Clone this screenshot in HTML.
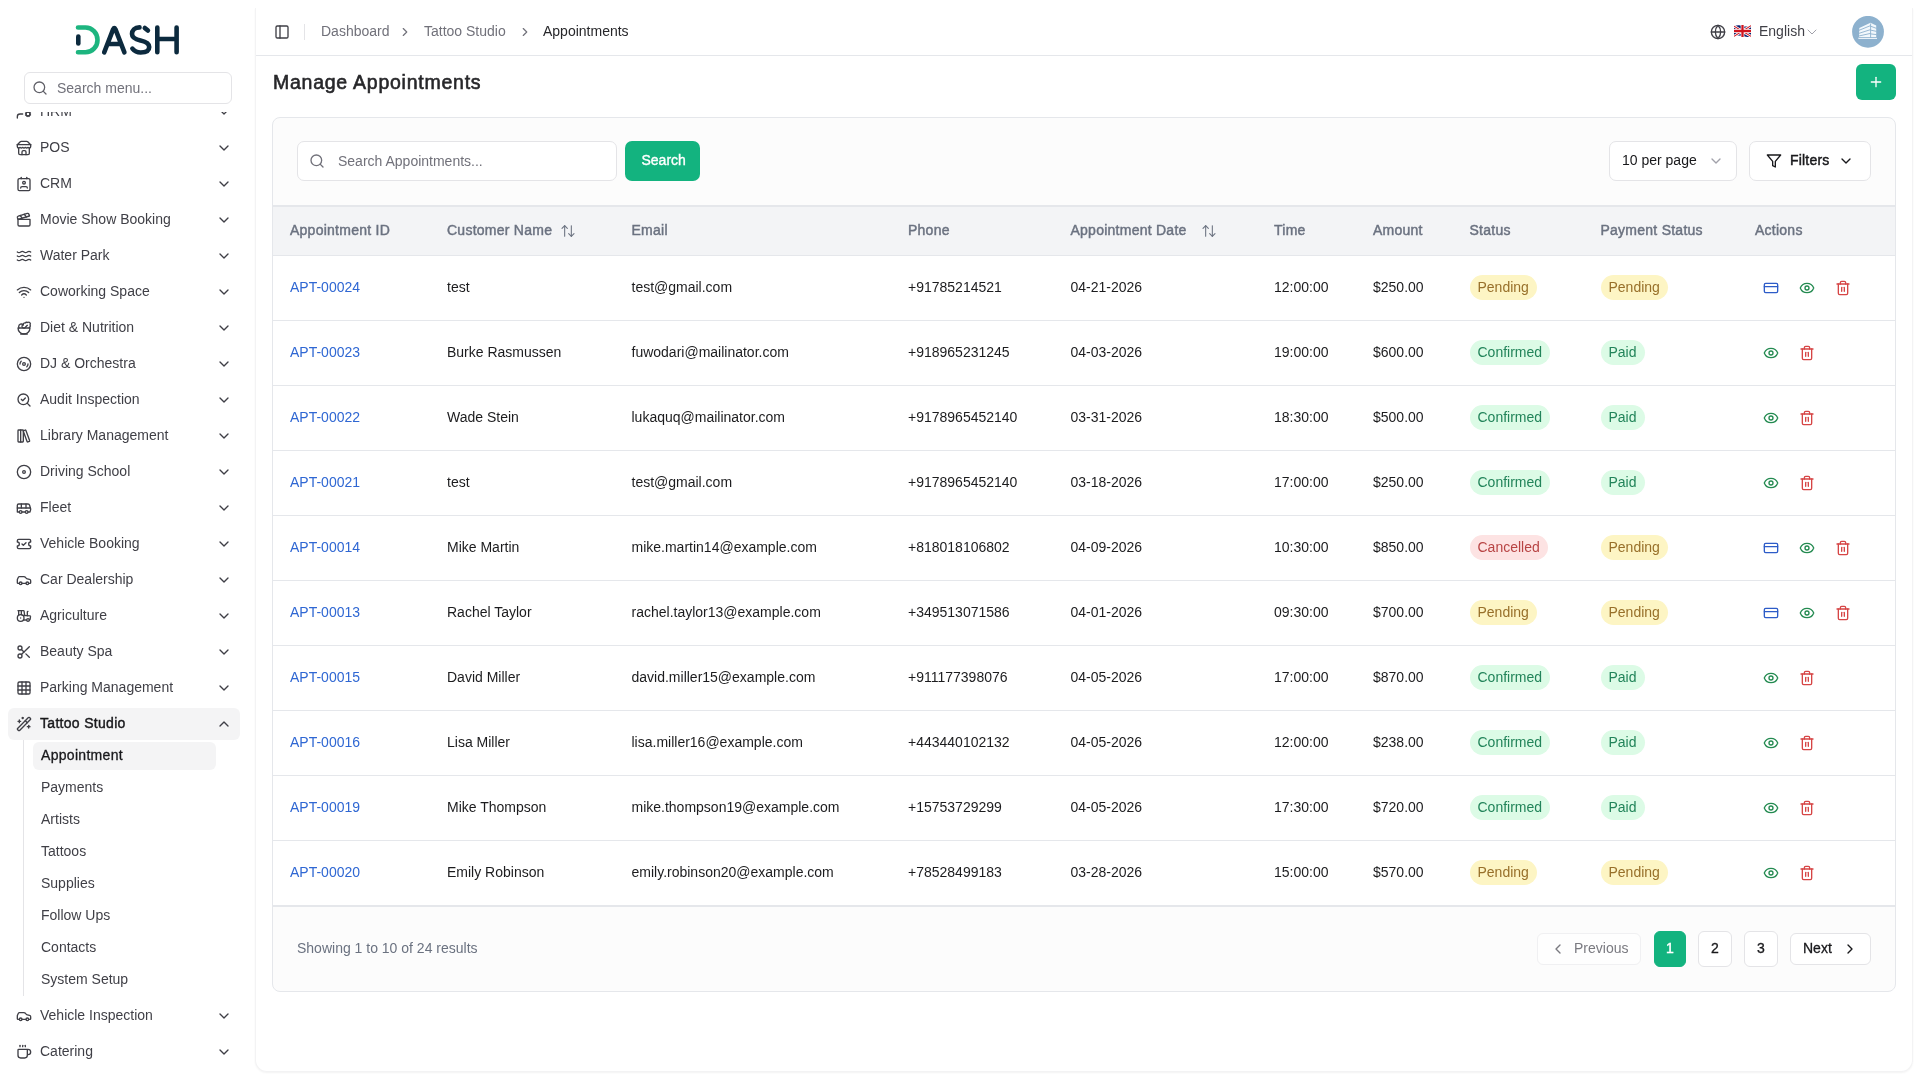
<!DOCTYPE html>
<html><head><meta charset="utf-8">
<style>
*{box-sizing:border-box;margin:0;padding:0}
html,body{width:1920px;height:1080px;overflow:hidden;background:#fff;font-family:"Liberation Sans",sans-serif;color:#27272a}
.abs{position:absolute}
svg{display:block}
/* sidebar */
#side{position:absolute;left:0;top:0;width:256px;height:1080px;background:#fff}
#logo{position:absolute;left:70px;top:20px}
#msearch{position:absolute;left:24px;top:72px;width:208px;height:32px;border:1px solid #e4e4e7;border-radius:6px;background:#fff}
#msearch .ph{position:absolute;left:32px;top:7px;font-size:14px;color:#71717a;line-height:16px}
#nav{position:absolute;left:0;top:112px;width:256px;height:968px;overflow:hidden}
.it{position:absolute;left:8px;width:232px;height:32px;border-radius:6px}
.it .ic{position:absolute;left:8px;top:8px;width:16px;height:16px}
.it .tx{position:absolute;left:32px;top:7px;font-size:14px;line-height:16px;color:#3f3f46;white-space:nowrap}
.it .ch{position:absolute;left:208px;top:10px;width:12px;height:12px}
.it.act{background:#f4f4f5}
.it.act .tx{color:#18181b;-webkit-text-stroke:0.4px #18181b;letter-spacing:0.3px}
.sub{position:absolute;left:33px;width:183px;height:28px;border-radius:6px}
.sub .tx{position:absolute;left:8px;top:5px;font-size:14px;line-height:16px;color:#3f3f46;white-space:nowrap}
.sub.act{background:#f4f4f5}
.sub.act .tx{color:#18181b;-webkit-text-stroke:0.3px #18181b;letter-spacing:0.3px}
#vline{position:absolute;left:23px;top:740px;width:1px;height:256px;background:#e4e4e7}
/* main */
#main{position:absolute;left:255px;top:8px;width:1658px;height:1064px;border-radius:12px;background:#fff;border:1px solid #f3f3f4;border-top:none;border-top-left-radius:0;border-top-right-radius:0;box-shadow:0 1px 2px rgba(0,0,0,.05)}
.t{position:absolute;white-space:nowrap}
.badge{position:absolute;height:24.6px;padding:0 8px;border-radius:13px;font-size:14px;line-height:24.6px;white-space:nowrap}
.pg{position:absolute;border:1px solid #e4e4e7;border-radius:6px;background:#fff}
</style></head><body><div id="root" style="position:absolute;left:0;top:0;width:1920px;height:1080px;will-change:transform">
<div id="side">
  <svg id="logo" width="115" height="40" viewBox="70 20 115 40" fill="none" stroke-linecap="round" stroke-linejoin="round">
    <path d="M78,27.5 H85.5 A12,12.4 0 0 1 85.5,52.3 H78" stroke="#1db57f" stroke-width="4.6"/>
    <path d="M78.3,36.6 V43.4" stroke="#0c2a3e" stroke-width="4.6"/>
    <path d="M104.2,52.3 L113.2,29.2 Q114.3,27 115.4,29.2 L124.4,52.3 M108.2,44 H120.4" stroke="#0c2a3e" stroke-width="4.6"/>
    <path d="M139.5,27.4 C134.5,27.4 132,30.3 132,34 C132,38 135.5,39.4 140.5,40.5 C146,41.7 149.2,43.5 149.2,47 C149.2,50.8 145.6,52.5 140.6,52.5 C136.6,52.5 134.3,51 132.4,48.6 M144.8,27.9 L147.9,30.6" stroke="#0c2a3e" stroke-width="4.6"/>
    <path d="M157.3,27.5 V52.3 M176.6,27.5 V52.3 M157.3,39 H176.6" stroke="#0c2a3e" stroke-width="4.6"/>
  </svg>
  <div id="msearch">
    <svg class="abs" style="left:7px;top:7px" width="16" height="16" viewBox="0 0 24 24" fill="none" stroke="#5f5f67" stroke-width="1.9" stroke-linecap="round"><circle cx="11" cy="11" r="8"/><path d="m21 21-4.3-4.3"/></svg>
    <div class="ph">Search menu...</div>
  </div>
  <div id="nav">
  <div class="it" style="top:-16px"><svg style="position:absolute;left:8px;top:8px" width="16" height="16" viewBox="0 0 24 24" fill="none" stroke="#3f3f46" stroke-width="2" stroke-linecap="round" stroke-linejoin="round"><circle cx="18" cy="15" r="3"/><circle cx="9" cy="7" r="4"/><path d="M10 15H6a4 4 0 0 0-4 4v2"/><path d="m21.7 16.4-.9-.3"/><path d="m15.2 13.9-.9-.3"/><path d="m16.6 18.7.3-.9"/><path d="m19.1 12.2.3-.9"/><path d="m19.6 18.7-.4-1"/><path d="m16.8 12.3-.4-1"/><path d="m14.3 16.6 1-.4"/><path d="m20.7 13.8 1-.4"/></svg><div class="tx">HRM</div><svg style="position:absolute;left:208px;top:8px" width="16" height="16" viewBox="0 0 24 24" fill="none" stroke="#3f3f46" stroke-width="2" stroke-linecap="round" stroke-linejoin="round"><path d="m6 9 6 6 6-6"/></svg></div>
<div class="it" style="top:20px"><svg style="position:absolute;left:8px;top:8px" width="16" height="16" viewBox="0 0 24 24" fill="none" stroke="#3f3f46" stroke-width="2" stroke-linecap="round" stroke-linejoin="round"><path d="m2 7 4.41-4.41A2 2 0 0 1 7.83 2h8.34a2 2 0 0 1 1.42.59L22 7"/><path d="M4 12v8a2 2 0 0 0 2 2h12a2 2 0 0 0 2-2v-8"/><path d="M15 22v-4a2 2 0 0 0-2-2h-2a2 2 0 0 0-2 2v4"/><path d="M2 7h20"/><path d="M22 7v3a2 2 0 0 1-2 2a2.7 2.7 0 0 1-1.59-.63.7.7 0 0 0-.82 0A2.7 2.7 0 0 1 16 12a2.7 2.7 0 0 1-1.59-.63.7.7 0 0 0-.82 0A2.7 2.7 0 0 1 12 12a2.7 2.7 0 0 1-1.590-.63.7.7 0 0 0-.82 0A2.7 2.7 0 0 1 8 12a2.7 2.7 0 0 1-1.59-.63.7.7 0 0 0-.82 0A2.7 2.7 0 0 1 4 12a2 2 0 0 1-2-2V7"/></svg><div class="tx">POS</div><svg style="position:absolute;left:208px;top:8px" width="16" height="16" viewBox="0 0 24 24" fill="none" stroke="#3f3f46" stroke-width="2" stroke-linecap="round" stroke-linejoin="round"><path d="m6 9 6 6 6-6"/></svg></div>
<div class="it" style="top:56px"><svg style="position:absolute;left:8px;top:8px" width="16" height="16" viewBox="0 0 24 24" fill="none" stroke="#3f3f46" stroke-width="2" stroke-linecap="round" stroke-linejoin="round"><path d="M17 18a2 2 0 0 0-2-2H9a2 2 0 0 0-2 2"/><rect width="18" height="18" x="3" y="4" rx="2"/><circle cx="12" cy="10" r="2"/><line x1="8" x2="8" y1="2" y2="4"/><line x1="16" x2="16" y1="2" y2="4"/></svg><div class="tx">CRM</div><svg style="position:absolute;left:208px;top:8px" width="16" height="16" viewBox="0 0 24 24" fill="none" stroke="#3f3f46" stroke-width="2" stroke-linecap="round" stroke-linejoin="round"><path d="m6 9 6 6 6-6"/></svg></div>
<div class="it" style="top:92px"><svg style="position:absolute;left:8px;top:8px" width="16" height="16" viewBox="0 0 24 24" fill="none" stroke="#3f3f46" stroke-width="2" stroke-linecap="round" stroke-linejoin="round"><path d="M20.2 6 3 11l-.9-2.4c-.3-1.1.3-2.2 1.3-2.5l13.5-4c1.1-.3 2.2.3 2.5 1.3Z"/><path d="m6.2 5.3 3.1 3.9"/><path d="m12.4 3.4 3.1 4"/><path d="M3 11h18v8a2 2 0 0 1-2 2H5a2 2 0 0 1-2-2Z"/></svg><div class="tx">Movie Show Booking</div><svg style="position:absolute;left:208px;top:8px" width="16" height="16" viewBox="0 0 24 24" fill="none" stroke="#3f3f46" stroke-width="2" stroke-linecap="round" stroke-linejoin="round"><path d="m6 9 6 6 6-6"/></svg></div>
<div class="it" style="top:128px"><svg style="position:absolute;left:8px;top:8px" width="16" height="16" viewBox="0 0 24 24" fill="none" stroke="#3f3f46" stroke-width="2" stroke-linecap="round" stroke-linejoin="round"><path d="M2 6c.6.5 1.2 1 2.5 1C7 7 7 5 9.5 5c2.6 0 2.4 2 5 2 2.5 0 2.5-2 5-2 1.3 0 1.9.5 2.5 1"/><path d="M2 12c.6.5 1.2 1 2.5 1 2.5 0 2.5-2 5-2 2.6 0 2.4 2 5 2 2.5 0 2.5-2 5-2 1.3 0 1.9.5 2.5 1"/><path d="M2 18c.6.5 1.2 1 2.5 1 2.5 0 2.5-2 5-2 2.6 0 2.4 2 5 2 2.5 0 2.5-2 5-2 1.3 0 1.9.5 2.5 1"/></svg><div class="tx">Water Park</div><svg style="position:absolute;left:208px;top:8px" width="16" height="16" viewBox="0 0 24 24" fill="none" stroke="#3f3f46" stroke-width="2" stroke-linecap="round" stroke-linejoin="round"><path d="m6 9 6 6 6-6"/></svg></div>
<div class="it" style="top:164px"><svg style="position:absolute;left:8px;top:8px" width="16" height="16" viewBox="0 0 24 24" fill="none" stroke="#3f3f46" stroke-width="2" stroke-linecap="round" stroke-linejoin="round"><path d="M12 20h.01"/><path d="M2 8.82a15 15 0 0 1 20 0"/><path d="M5 12.859a10 10 0 0 1 14 0"/><path d="M8.5 16.429a5 5 0 0 1 7 0"/></svg><div class="tx">Coworking Space</div><svg style="position:absolute;left:208px;top:8px" width="16" height="16" viewBox="0 0 24 24" fill="none" stroke="#3f3f46" stroke-width="2" stroke-linecap="round" stroke-linejoin="round"><path d="m6 9 6 6 6-6"/></svg></div>
<div class="it" style="top:200px"><svg style="position:absolute;left:8px;top:8px" width="16" height="16" viewBox="0 0 24 24" fill="none" stroke="#3f3f46" stroke-width="2" stroke-linecap="round" stroke-linejoin="round"><path d="M7 21h10"/><path d="M12 21a9 9 0 0 0 9-9H3a9 9 0 0 0 9 9Z"/><path d="M11.38 12a2.4 2.4 0 0 1-.4-4.77 2.4 2.4 0 0 1 3.2-2.77 2.4 2.4 0 0 1 3.47-.63 2.4 2.4 0 0 1 3.37 3.37 2.4 2.4 0 0 1-1.1 3.7 2.51 2.51 0 0 1 .03 1.1"/><path d="m13 12 4-4"/><path d="M10.9 7.25A3.99 3.99 0 0 0 4 10c0 .73.2 1.41.54 2"/></svg><div class="tx">Diet &amp; Nutrition</div><svg style="position:absolute;left:208px;top:8px" width="16" height="16" viewBox="0 0 24 24" fill="none" stroke="#3f3f46" stroke-width="2" stroke-linecap="round" stroke-linejoin="round"><path d="m6 9 6 6 6-6"/></svg></div>
<div class="it" style="top:236px"><svg style="position:absolute;left:8px;top:8px" width="16" height="16" viewBox="0 0 24 24" fill="none" stroke="#3f3f46" stroke-width="2" stroke-linecap="round" stroke-linejoin="round"><circle cx="12" cy="12" r="10"/><path d="M6 12c0-1.7.7-3.2 1.8-4.2"/><circle cx="12" cy="12" r="2"/><path d="M18 12c0 1.7-.7 3.2-1.8 4.2"/></svg><div class="tx">DJ &amp; Orchestra</div><svg style="position:absolute;left:208px;top:8px" width="16" height="16" viewBox="0 0 24 24" fill="none" stroke="#3f3f46" stroke-width="2" stroke-linecap="round" stroke-linejoin="round"><path d="m6 9 6 6 6-6"/></svg></div>
<div class="it" style="top:272px"><svg style="position:absolute;left:8px;top:8px" width="16" height="16" viewBox="0 0 24 24" fill="none" stroke="#3f3f46" stroke-width="2" stroke-linecap="round" stroke-linejoin="round"><path d="m8 11 2 2 4-4"/><circle cx="11" cy="11" r="8"/><path d="m21 21-4.3-4.3"/></svg><div class="tx">Audit Inspection</div><svg style="position:absolute;left:208px;top:8px" width="16" height="16" viewBox="0 0 24 24" fill="none" stroke="#3f3f46" stroke-width="2" stroke-linecap="round" stroke-linejoin="round"><path d="m6 9 6 6 6-6"/></svg></div>
<div class="it" style="top:308px"><svg style="position:absolute;left:8px;top:8px" width="16" height="16" viewBox="0 0 24 24" fill="none" stroke="#3f3f46" stroke-width="2" stroke-linecap="round" stroke-linejoin="round"><rect width="8" height="18" x="3" y="3" rx="1"/><path d="M7 3v18"/><path d="M20.4 18.9c.2.5-.1 1.1-.6 1.3l-1.9.7c-.5.2-1.1-.1-1.3-.6L11.1 5.1c-.2-.5.1-1.1.6-1.3l1.9-.7c.5-.2 1.1.1 1.3.6Z"/></svg><div class="tx">Library Management</div><svg style="position:absolute;left:208px;top:8px" width="16" height="16" viewBox="0 0 24 24" fill="none" stroke="#3f3f46" stroke-width="2" stroke-linecap="round" stroke-linejoin="round"><path d="m6 9 6 6 6-6"/></svg></div>
<div class="it" style="top:344px"><svg style="position:absolute;left:8px;top:8px" width="16" height="16" viewBox="0 0 24 24" fill="none" stroke="#3f3f46" stroke-width="2" stroke-linecap="round" stroke-linejoin="round"><circle cx="12" cy="12" r="10"/><circle cx="12" cy="12" r="2"/></svg><div class="tx">Driving School</div><svg style="position:absolute;left:208px;top:8px" width="16" height="16" viewBox="0 0 24 24" fill="none" stroke="#3f3f46" stroke-width="2" stroke-linecap="round" stroke-linejoin="round"><path d="m6 9 6 6 6-6"/></svg></div>
<div class="it" style="top:380px"><svg style="position:absolute;left:8px;top:8px" width="16" height="16" viewBox="0 0 24 24" fill="none" stroke="#3f3f46" stroke-width="2" stroke-linecap="round" stroke-linejoin="round"><path d="M8 6v6"/><path d="M15 6v6"/><path d="M2 12h19.6"/><path d="M18 18h3s.5-1.7.8-2.8c.1-.4.2-.8.2-1.2 0-.4-.1-.8-.2-1.2l-1.4-5C20.1 6.8 19.1 6 18 6H4a2 2 0 0 0-2 2v10h3"/><circle cx="7" cy="18" r="2"/><path d="M9 18h5"/><circle cx="16" cy="18" r="2"/></svg><div class="tx">Fleet</div><svg style="position:absolute;left:208px;top:8px" width="16" height="16" viewBox="0 0 24 24" fill="none" stroke="#3f3f46" stroke-width="2" stroke-linecap="round" stroke-linejoin="round"><path d="m6 9 6 6 6-6"/></svg></div>
<div class="it" style="top:416px"><svg style="position:absolute;left:8px;top:8px" width="16" height="16" viewBox="0 0 24 24" fill="none" stroke="#3f3f46" stroke-width="2" stroke-linecap="round" stroke-linejoin="round"><path d="M2 9a3 3 0 0 1 0 6v2a2 2 0 0 0 2 2h16a2 2 0 0 0 2-2v-2a3 3 0 0 1 0-6V7a2 2 0 0 0-2-2H4a2 2 0 0 0-2 2Z"/><path d="m9 12 2 2 4-4"/></svg><div class="tx">Vehicle Booking</div><svg style="position:absolute;left:208px;top:8px" width="16" height="16" viewBox="0 0 24 24" fill="none" stroke="#3f3f46" stroke-width="2" stroke-linecap="round" stroke-linejoin="round"><path d="m6 9 6 6 6-6"/></svg></div>
<div class="it" style="top:452px"><svg style="position:absolute;left:8px;top:8px" width="16" height="16" viewBox="0 0 24 24" fill="none" stroke="#3f3f46" stroke-width="2" stroke-linecap="round" stroke-linejoin="round"><path d="M19 17h2c.6 0 1-.4 1-1v-3c0-.9-.7-1.7-1.5-1.9C18.7 10.6 16 10 16 10s-1.3-1.4-2.2-2.3c-.5-.4-1.1-.7-1.8-.7H5c-.6 0-1.1.4-1.4.9l-1.4 2.9A3.7 3.7 0 0 0 2 12v4c0 .6.4 1 1 1h2"/><circle cx="7" cy="17" r="2"/><path d="M9 17h6"/><circle cx="17" cy="17" r="2"/></svg><div class="tx">Car Dealership</div><svg style="position:absolute;left:208px;top:8px" width="16" height="16" viewBox="0 0 24 24" fill="none" stroke="#3f3f46" stroke-width="2" stroke-linecap="round" stroke-linejoin="round"><path d="m6 9 6 6 6-6"/></svg></div>
<div class="it" style="top:488px"><svg style="position:absolute;left:8px;top:8px" width="16" height="16" viewBox="0 0 24 24" fill="none" stroke="#3f3f46" stroke-width="2" stroke-linecap="round" stroke-linejoin="round"><path d="m10 11 11 .9a1 1 0 0 1 .8 1.1l-.665 4.158a1 1 0 0 1-.988.842H20"/><path d="M16 18h-5"/><path d="M18 5a1 1 0 0 0-1 1v5.573"/><path d="M3 4h8.129a1 1 0 0 1 .99.863L13 11.246"/><path d="M4 11V4"/><path d="M7 15h.01"/><path d="M8 10.1V4"/><circle cx="18" cy="18" r="2"/><circle cx="7" cy="15" r="5"/></svg><div class="tx">Agriculture</div><svg style="position:absolute;left:208px;top:8px" width="16" height="16" viewBox="0 0 24 24" fill="none" stroke="#3f3f46" stroke-width="2" stroke-linecap="round" stroke-linejoin="round"><path d="m6 9 6 6 6-6"/></svg></div>
<div class="it" style="top:524px"><svg style="position:absolute;left:8px;top:8px" width="16" height="16" viewBox="0 0 24 24" fill="none" stroke="#3f3f46" stroke-width="2" stroke-linecap="round" stroke-linejoin="round"><circle cx="6" cy="6" r="3"/><path d="M8.12 8.12 12 12"/><path d="M20 4 8.12 15.88"/><circle cx="6" cy="18" r="3"/><path d="M14.8 14.8 20 20"/></svg><div class="tx">Beauty Spa</div><svg style="position:absolute;left:208px;top:8px" width="16" height="16" viewBox="0 0 24 24" fill="none" stroke="#3f3f46" stroke-width="2" stroke-linecap="round" stroke-linejoin="round"><path d="m6 9 6 6 6-6"/></svg></div>
<div class="it" style="top:560px"><svg style="position:absolute;left:8px;top:8px" width="16" height="16" viewBox="0 0 24 24" fill="none" stroke="#3f3f46" stroke-width="2" stroke-linecap="round" stroke-linejoin="round"><rect width="18" height="18" x="3" y="3" rx="2"/><path d="M3 9h18"/><path d="M3 15h18"/><path d="M9 3v18"/><path d="M15 3v18"/></svg><div class="tx">Parking Management</div><svg style="position:absolute;left:208px;top:8px" width="16" height="16" viewBox="0 0 24 24" fill="none" stroke="#3f3f46" stroke-width="2" stroke-linecap="round" stroke-linejoin="round"><path d="m6 9 6 6 6-6"/></svg></div>
<div class="it act" style="top:596px"><svg style="position:absolute;left:8px;top:8px" width="16" height="16" viewBox="0 0 24 24" fill="none" stroke="#3f3f46" stroke-width="2" stroke-linecap="round" stroke-linejoin="round"><path d="m21.64 3.64-1.28-1.28a1.21 1.21 0 0 0-1.72 0L2.36 18.64a1.21 1.21 0 0 0 0 1.72l1.28 1.28a1.2 1.2 0 0 0 1.72 0L21.64 5.36a1.2 1.2 0 0 0 0-1.72"/><path d="m14 7 3 3"/><path d="M5 6v4"/><path d="M19 14v4"/><path d="M10 2v2"/><path d="M7 8H3"/><path d="M21 16h-4"/><path d="M11 3H9"/></svg><div class="tx">Tattoo Studio</div><svg style="position:absolute;left:208px;top:8px" width="16" height="16" viewBox="0 0 24 24" fill="none" stroke="#3f3f46" stroke-width="2" stroke-linecap="round" stroke-linejoin="round"><path d="m18 15-6-6-6 6"/></svg></div>
<div class="sub act" style="top:630px"><div class="tx">Appointment</div></div>
<div class="sub" style="top:662px"><div class="tx">Payments</div></div>
<div class="sub" style="top:694px"><div class="tx">Artists</div></div>
<div class="sub" style="top:726px"><div class="tx">Tattoos</div></div>
<div class="sub" style="top:758px"><div class="tx">Supplies</div></div>
<div class="sub" style="top:790px"><div class="tx">Follow Ups</div></div>
<div class="sub" style="top:822px"><div class="tx">Contacts</div></div>
<div class="sub" style="top:854px"><div class="tx">System Setup</div></div>
<div style="position:absolute;left:23px;top:628px;width:1px;height:256px;background:#e4e4e7"></div>
<div class="it" style="top:888px"><svg style="position:absolute;left:8px;top:8px" width="16" height="16" viewBox="0 0 24 24" fill="none" stroke="#3f3f46" stroke-width="2" stroke-linecap="round" stroke-linejoin="round"><path d="M19 17h2c.6 0 1-.4 1-1v-3c0-.9-.7-1.7-1.5-1.9C18.7 10.6 16 10 16 10s-1.3-1.4-2.2-2.3c-.5-.4-1.1-.7-1.8-.7H5c-.6 0-1.1.4-1.4.9l-1.4 2.9A3.7 3.7 0 0 0 2 12v4c0 .6.4 1 1 1h2"/><circle cx="7" cy="17" r="2"/><path d="M9 17h6"/><circle cx="17" cy="17" r="2"/></svg><div class="tx">Vehicle Inspection</div><svg style="position:absolute;left:208px;top:8px" width="16" height="16" viewBox="0 0 24 24" fill="none" stroke="#3f3f46" stroke-width="2" stroke-linecap="round" stroke-linejoin="round"><path d="m6 9 6 6 6-6"/></svg></div>
<div class="it" style="top:924px"><svg style="position:absolute;left:8px;top:8px" width="16" height="16" viewBox="0 0 24 24" fill="none" stroke="#3f3f46" stroke-width="2" stroke-linecap="round" stroke-linejoin="round"><path d="M10 2v2"/><path d="M14 2v2"/><path d="M16 8a1 1 0 0 1 1 1v8a4 4 0 0 1-4 4H7a4 4 0 0 1-4-4V9a1 1 0 0 1 1-1h14a4 4 0 1 1 0 8h-1"/><path d="M6 2v2"/></svg><div class="tx">Catering</div><svg style="position:absolute;left:208px;top:8px" width="16" height="16" viewBox="0 0 24 24" fill="none" stroke="#3f3f46" stroke-width="2" stroke-linecap="round" stroke-linejoin="round"><path d="m6 9 6 6 6-6"/></svg></div>
  </div>
</div>
<div id="main"></div>
<div class="abs" style="left:256px;top:55px;width:1656px;height:1px;background:#e5e7eb"></div>
<svg style="position:absolute;left:274px;top:24px" width="16" height="16" viewBox="0 0 24 24" fill="none" stroke="#3f3f46" stroke-width="2" stroke-linecap="round" stroke-linejoin="round"><rect width="18" height="18" x="3" y="3" rx="2"/><path d="M9 3v18"/></svg>
<div class="abs" style="left:304px;top:24px;width:1px;height:16px;background:#e4e4e7"></div>
<div class="t" style="left:321px;top:21.95px;font-size:14px;line-height:18px;color:#71717a;font-weight:normal;">Dashboard</div>
<svg style="position:absolute;left:398px;top:25px" width="14" height="14" viewBox="0 0 24 24" fill="none" stroke="#71717a" stroke-width="2" stroke-linecap="round" stroke-linejoin="round"><path d="m9 18 6-6-6-6"/></svg>
<div class="t" style="left:424px;top:21.95px;font-size:14px;line-height:18px;color:#71717a;font-weight:normal;">Tattoo Studio</div>
<svg style="position:absolute;left:518px;top:25px" width="14" height="14" viewBox="0 0 24 24" fill="none" stroke="#71717a" stroke-width="2" stroke-linecap="round" stroke-linejoin="round"><path d="m9 18 6-6-6-6"/></svg>
<div class="t" style="left:543px;top:21.95px;font-size:14px;line-height:18px;color:#27272a;font-weight:normal;">Appointments</div>
<svg style="position:absolute;left:1710px;top:24px" width="16" height="16" viewBox="0 0 24 24" fill="none" stroke="#3f3f46" stroke-width="2" stroke-linecap="round" stroke-linejoin="round"><circle cx="12" cy="12" r="10"/><path d="M12 2a14.5 14.5 0 0 0 0 20 14.5 14.5 0 0 0 0-20"/><path d="M2 12h20"/></svg>
<svg class="abs" style="left:1734px;top:25px" width="17" height="12" viewBox="0 0 60 40" preserveAspectRatio="none"><path d="M0,4 Q15,-2 30,3 T60,2 V38 Q45,42 30,37 T0,38 Z" fill="#0a1f6e"/><path d="M0,4 L60,38 M60,2 L0,38" stroke="#fff" stroke-width="9"/><path d="M0,4 L60,38 M60,2 L0,38" stroke="#d0141e" stroke-width="3.5"/><path d="M30,0 V40 M0,20 H60" stroke="#fff" stroke-width="13"/><path d="M30,0 V40 M0,20 H60" stroke="#d0141e" stroke-width="8"/></svg>
<div class="t" style="left:1759px;top:21.65px;font-size:14px;line-height:18px;color:#3f3f46;font-weight:normal;">English</div>
<svg style="position:absolute;left:1804px;top:24px" width="16" height="16" viewBox="0 0 24 24" fill="none" stroke="#a1a1aa" stroke-width="1.5" stroke-linecap="round" stroke-linejoin="round"><path d="m6 9 6 6 6-6"/></svg>
<svg class="abs" style="left:1852px;top:16px" width="32" height="32" viewBox="0 0 32 32"><circle cx="16" cy="15.8" r="15.9" fill="#8db1ce"/><path d="M7.3,12 L18.5,6.8 L24.2,9.6 L24.2,21.3 L25,21.3 L25,23 L6.4,23 L6.4,21.3 L7,21.3 Z" fill="#f2f8fc"/><path d="M6.8,14.4 L18.6,9.6 M6.8,17.4 L18.6,13.6 M6.8,20 L18.6,17.4 M6.4,21.6 H25 M18.6,7.5 V21.6 M18.6,10.2 L24.5,12.4 M18.6,14.1 L24.5,15.4 M18.6,17.9 L24.5,18.6" stroke="#8db1ce" stroke-width="0.9" fill="none"/></svg>
<div class="t" style="left:273px;top:69.74px;font-size:19.5px;line-height:24px;color:#27272a;font-weight:normal;-webkit-text-stroke:0.6px #27272a;letter-spacing:0.75px">Manage Appointments</div>
<div class="abs" style="left:1856px;top:64px;width:40px;height:36px;border-radius:6px;background:#13b37f"><svg style="position:absolute;left:12px;top:10px" width="16" height="16" viewBox="0 0 24 24" fill="none" stroke="#fff" stroke-width="2" stroke-linecap="round" stroke-linejoin="round"><path d="M5 12h14"/><path d="M12 5v14"/></svg></div>
<div class="abs" style="left:272px;top:117px;width:1624px;height:875px;border:1px solid #e5e7eb;border-radius:8px;background:#fcfcfc;overflow:hidden"></div>
<div class="abs" style="left:297px;top:141px;width:320px;height:40px;border:1px solid #e4e4e7;border-radius:7px;background:#fff"></div>
<svg style="position:absolute;left:309px;top:153px" width="16" height="16" viewBox="0 0 24 24" fill="none" stroke="#71717a" stroke-width="2" stroke-linecap="round" stroke-linejoin="round"><circle cx="11" cy="11" r="8"/><path d="m21 21-4.3-4.3"/></svg>
<div class="t" style="left:338px;top:152.15px;font-size:14px;line-height:18px;color:#71717a;font-weight:normal;">Search Appointments...</div>
<div class="abs" style="left:625px;top:141px;width:75px;height:40px;border-radius:7px;background:#13b37f"></div>
<div class="t" style="left:641.5px;top:151.15px;font-size:14px;line-height:18px;color:#ffffff;font-weight:normal;-webkit-text-stroke:0.35px #fff">Search</div>
<div class="abs" style="left:1609px;top:141px;width:128px;height:40px;border:1px solid #e4e4e7;border-radius:7px;background:#fff"></div>
<div class="t" style="left:1622px;top:150.95px;font-size:14px;line-height:18px;color:#18181b;font-weight:normal;">10 per page</div>
<svg style="position:absolute;left:1708px;top:153px" width="16" height="16" viewBox="0 0 24 24" fill="none" stroke="#a1a1aa" stroke-width="2" stroke-linecap="round" stroke-linejoin="round"><path d="m6 9 6 6 6-6"/></svg>
<div class="abs" style="left:1749px;top:141px;width:122px;height:40px;border:1px solid #e4e4e7;border-radius:7px;background:#fff"></div>
<svg style="position:absolute;left:1766px;top:153px" width="16" height="16" viewBox="0 0 24 24" fill="none" stroke="#18181b" stroke-width="2" stroke-linecap="round" stroke-linejoin="round"><polygon points="22 3 2 3 10 12.46 10 19 14 21 14 12.46 22 3"/></svg>
<div class="t" style="left:1790px;top:150.95px;font-size:14px;line-height:18px;color:#18181b;font-weight:normal;-webkit-text-stroke:0.45px #18181b;letter-spacing:0.2px">Filters</div>
<svg style="position:absolute;left:1838px;top:153px" width="16" height="16" viewBox="0 0 24 24" fill="none" stroke="#18181b" stroke-width="2" stroke-linecap="round" stroke-linejoin="round"><path d="m6 9 6 6 6-6"/></svg>
<div class="abs" style="left:273px;top:205px;width:1622px;height:51px;background:#f3f4f6;border-top:2px solid #e5e7eb;border-bottom:1px solid #e5e7eb"></div>
<div class="t" style="left:290px;top:220.95px;font-size:14px;line-height:18px;color:#6b7280;font-weight:normal;-webkit-text-stroke:0.45px #6b7280;letter-spacing:0.25px">Appointment ID</div>
<div class="t" style="left:447px;top:220.95px;font-size:14px;line-height:18px;color:#6b7280;font-weight:normal;-webkit-text-stroke:0.45px #6b7280;letter-spacing:0.25px">Customer Name</div>
<div class="t" style="left:631.5px;top:220.95px;font-size:14px;line-height:18px;color:#6b7280;font-weight:normal;-webkit-text-stroke:0.45px #6b7280;letter-spacing:0.25px">Email</div>
<div class="t" style="left:908px;top:220.95px;font-size:14px;line-height:18px;color:#6b7280;font-weight:normal;-webkit-text-stroke:0.45px #6b7280;letter-spacing:0.25px">Phone</div>
<div class="t" style="left:1070.5px;top:220.95px;font-size:14px;line-height:18px;color:#6b7280;font-weight:normal;-webkit-text-stroke:0.45px #6b7280;letter-spacing:0.25px">Appointment Date</div>
<div class="t" style="left:1274px;top:220.95px;font-size:14px;line-height:18px;color:#6b7280;font-weight:normal;-webkit-text-stroke:0.45px #6b7280;letter-spacing:0.25px">Time</div>
<div class="t" style="left:1373px;top:220.95px;font-size:14px;line-height:18px;color:#6b7280;font-weight:normal;-webkit-text-stroke:0.45px #6b7280;letter-spacing:0.25px">Amount</div>
<div class="t" style="left:1469.5px;top:220.95px;font-size:14px;line-height:18px;color:#6b7280;font-weight:normal;-webkit-text-stroke:0.45px #6b7280;letter-spacing:0.25px">Status</div>
<div class="t" style="left:1600.5px;top:220.95px;font-size:14px;line-height:18px;color:#6b7280;font-weight:normal;-webkit-text-stroke:0.45px #6b7280;letter-spacing:0.25px">Payment Status</div>
<div class="t" style="left:1755px;top:220.95px;font-size:14px;line-height:18px;color:#6b7280;font-weight:normal;-webkit-text-stroke:0.45px #6b7280;letter-spacing:0.25px">Actions</div>
<svg style="position:absolute;left:560px;top:223px" width="16" height="16" viewBox="0 0 24 24" fill="none" stroke="#6b7280" stroke-width="1.6" stroke-linecap="round" stroke-linejoin="round"><path d="m21 16-4 4-4-4"/><path d="M17 20V4"/><path d="m3 8 4-4 4 4"/><path d="M7 4v16"/></svg>
<svg style="position:absolute;left:1201px;top:223px" width="16" height="16" viewBox="0 0 24 24" fill="none" stroke="#6b7280" stroke-width="1.6" stroke-linecap="round" stroke-linejoin="round"><path d="m21 16-4 4-4-4"/><path d="M17 20V4"/><path d="m3 8 4-4 4 4"/><path d="M7 4v16"/></svg>
<div class="abs" style="left:273px;top:256px;width:1622px;height:650px;background:#fff"></div>
<div class="abs" style="left:273px;top:320px;width:1622px;height:1px;background:#e5e7eb"></div>
<div class="t" style="left:290px;top:278.25px;font-size:14px;line-height:18px;color:#2f67d3;font-weight:normal;">APT-00024</div>
<div class="t" style="left:447px;top:278.25px;font-size:14px;line-height:18px;color:#1c1c1e;font-weight:normal;">test</div>
<div class="t" style="left:631.5px;top:278.25px;font-size:14px;line-height:18px;color:#1c1c1e;font-weight:normal;">test@gmail.com</div>
<div class="t" style="left:908px;top:278.25px;font-size:14px;line-height:18px;color:#1c1c1e;font-weight:normal;">+91785214521</div>
<div class="t" style="left:1070.5px;top:278.25px;font-size:14px;line-height:18px;color:#1c1c1e;font-weight:normal;">04-21-2026</div>
<div class="t" style="left:1274px;top:278.25px;font-size:14px;line-height:18px;color:#1c1c1e;font-weight:normal;">12:00:00</div>
<div class="t" style="left:1373px;top:278.25px;font-size:14px;line-height:18px;color:#1c1c1e;font-weight:normal;">$250.00</div>
<div class="badge" style="left:1469.5px;top:275.2px;background:#fdf5c4;color:#98702a">Pending</div>
<div class="badge" style="left:1600.5px;top:275.2px;background:#fdf5c4;color:#98702a">Pending</div>
<svg style="position:absolute;left:1763px;top:280px" width="16" height="16" viewBox="0 0 24 24" fill="none" stroke="#2d5cc8" stroke-width="2" stroke-linecap="round" stroke-linejoin="round"><rect width="20" height="14" x="2" y="5" rx="2"/><line x1="2" x2="22" y1="10" y2="10"/></svg>
<svg style="position:absolute;left:1799px;top:280px" width="16" height="16" viewBox="0 0 24 24" fill="none" stroke="#238a50" stroke-width="2" stroke-linecap="round" stroke-linejoin="round"><path d="M2.062 12.348a1 1 0 0 1 0-.696 10.75 10.75 0 0 1 19.876 0 1 1 0 0 1 0 .696 10.75 10.75 0 0 1-19.876 0"/><circle cx="12" cy="12" r="3"/></svg>
<svg style="position:absolute;left:1835px;top:280px" width="16" height="16" viewBox="0 0 24 24" fill="none" stroke="#d64545" stroke-width="2" stroke-linecap="round" stroke-linejoin="round"><path d="M3 6h18"/><path d="M19 6v14c0 1-1 2-2 2H7c-1 0-2-1-2-2V6"/><path d="M8 6V4c0-1 1-2 2-2h4c1 0 2 1 2 2v2"/><line x1="10" x2="10" y1="11" y2="17"/><line x1="14" x2="14" y1="11" y2="17"/></svg>
<div class="abs" style="left:273px;top:385px;width:1622px;height:1px;background:#e5e7eb"></div>
<div class="t" style="left:290px;top:343.25px;font-size:14px;line-height:18px;color:#2f67d3;font-weight:normal;">APT-00023</div>
<div class="t" style="left:447px;top:343.25px;font-size:14px;line-height:18px;color:#1c1c1e;font-weight:normal;">Burke Rasmussen</div>
<div class="t" style="left:631.5px;top:343.25px;font-size:14px;line-height:18px;color:#1c1c1e;font-weight:normal;">fuwodari@mailinator.com</div>
<div class="t" style="left:908px;top:343.25px;font-size:14px;line-height:18px;color:#1c1c1e;font-weight:normal;">+918965231245</div>
<div class="t" style="left:1070.5px;top:343.25px;font-size:14px;line-height:18px;color:#1c1c1e;font-weight:normal;">04-03-2026</div>
<div class="t" style="left:1274px;top:343.25px;font-size:14px;line-height:18px;color:#1c1c1e;font-weight:normal;">19:00:00</div>
<div class="t" style="left:1373px;top:343.25px;font-size:14px;line-height:18px;color:#1c1c1e;font-weight:normal;">$600.00</div>
<div class="badge" style="left:1469.5px;top:340.2px;background:#dcfbe6;color:#22845a">Confirmed</div>
<div class="badge" style="left:1600.5px;top:340.2px;background:#dcfbe6;color:#22845a">Paid</div>
<svg style="position:absolute;left:1763px;top:345px" width="16" height="16" viewBox="0 0 24 24" fill="none" stroke="#238a50" stroke-width="2" stroke-linecap="round" stroke-linejoin="round"><path d="M2.062 12.348a1 1 0 0 1 0-.696 10.75 10.75 0 0 1 19.876 0 1 1 0 0 1 0 .696 10.75 10.75 0 0 1-19.876 0"/><circle cx="12" cy="12" r="3"/></svg>
<svg style="position:absolute;left:1799px;top:345px" width="16" height="16" viewBox="0 0 24 24" fill="none" stroke="#d64545" stroke-width="2" stroke-linecap="round" stroke-linejoin="round"><path d="M3 6h18"/><path d="M19 6v14c0 1-1 2-2 2H7c-1 0-2-1-2-2V6"/><path d="M8 6V4c0-1 1-2 2-2h4c1 0 2 1 2 2v2"/><line x1="10" x2="10" y1="11" y2="17"/><line x1="14" x2="14" y1="11" y2="17"/></svg>
<div class="abs" style="left:273px;top:450px;width:1622px;height:1px;background:#e5e7eb"></div>
<div class="t" style="left:290px;top:408.25px;font-size:14px;line-height:18px;color:#2f67d3;font-weight:normal;">APT-00022</div>
<div class="t" style="left:447px;top:408.25px;font-size:14px;line-height:18px;color:#1c1c1e;font-weight:normal;">Wade Stein</div>
<div class="t" style="left:631.5px;top:408.25px;font-size:14px;line-height:18px;color:#1c1c1e;font-weight:normal;">lukaquq@mailinator.com</div>
<div class="t" style="left:908px;top:408.25px;font-size:14px;line-height:18px;color:#1c1c1e;font-weight:normal;">+9178965452140</div>
<div class="t" style="left:1070.5px;top:408.25px;font-size:14px;line-height:18px;color:#1c1c1e;font-weight:normal;">03-31-2026</div>
<div class="t" style="left:1274px;top:408.25px;font-size:14px;line-height:18px;color:#1c1c1e;font-weight:normal;">18:30:00</div>
<div class="t" style="left:1373px;top:408.25px;font-size:14px;line-height:18px;color:#1c1c1e;font-weight:normal;">$500.00</div>
<div class="badge" style="left:1469.5px;top:405.2px;background:#dcfbe6;color:#22845a">Confirmed</div>
<div class="badge" style="left:1600.5px;top:405.2px;background:#dcfbe6;color:#22845a">Paid</div>
<svg style="position:absolute;left:1763px;top:410px" width="16" height="16" viewBox="0 0 24 24" fill="none" stroke="#238a50" stroke-width="2" stroke-linecap="round" stroke-linejoin="round"><path d="M2.062 12.348a1 1 0 0 1 0-.696 10.75 10.75 0 0 1 19.876 0 1 1 0 0 1 0 .696 10.75 10.75 0 0 1-19.876 0"/><circle cx="12" cy="12" r="3"/></svg>
<svg style="position:absolute;left:1799px;top:410px" width="16" height="16" viewBox="0 0 24 24" fill="none" stroke="#d64545" stroke-width="2" stroke-linecap="round" stroke-linejoin="round"><path d="M3 6h18"/><path d="M19 6v14c0 1-1 2-2 2H7c-1 0-2-1-2-2V6"/><path d="M8 6V4c0-1 1-2 2-2h4c1 0 2 1 2 2v2"/><line x1="10" x2="10" y1="11" y2="17"/><line x1="14" x2="14" y1="11" y2="17"/></svg>
<div class="abs" style="left:273px;top:515px;width:1622px;height:1px;background:#e5e7eb"></div>
<div class="t" style="left:290px;top:473.25px;font-size:14px;line-height:18px;color:#2f67d3;font-weight:normal;">APT-00021</div>
<div class="t" style="left:447px;top:473.25px;font-size:14px;line-height:18px;color:#1c1c1e;font-weight:normal;">test</div>
<div class="t" style="left:631.5px;top:473.25px;font-size:14px;line-height:18px;color:#1c1c1e;font-weight:normal;">test@gmail.com</div>
<div class="t" style="left:908px;top:473.25px;font-size:14px;line-height:18px;color:#1c1c1e;font-weight:normal;">+9178965452140</div>
<div class="t" style="left:1070.5px;top:473.25px;font-size:14px;line-height:18px;color:#1c1c1e;font-weight:normal;">03-18-2026</div>
<div class="t" style="left:1274px;top:473.25px;font-size:14px;line-height:18px;color:#1c1c1e;font-weight:normal;">17:00:00</div>
<div class="t" style="left:1373px;top:473.25px;font-size:14px;line-height:18px;color:#1c1c1e;font-weight:normal;">$250.00</div>
<div class="badge" style="left:1469.5px;top:470.2px;background:#dcfbe6;color:#22845a">Confirmed</div>
<div class="badge" style="left:1600.5px;top:470.2px;background:#dcfbe6;color:#22845a">Paid</div>
<svg style="position:absolute;left:1763px;top:475px" width="16" height="16" viewBox="0 0 24 24" fill="none" stroke="#238a50" stroke-width="2" stroke-linecap="round" stroke-linejoin="round"><path d="M2.062 12.348a1 1 0 0 1 0-.696 10.75 10.75 0 0 1 19.876 0 1 1 0 0 1 0 .696 10.75 10.75 0 0 1-19.876 0"/><circle cx="12" cy="12" r="3"/></svg>
<svg style="position:absolute;left:1799px;top:475px" width="16" height="16" viewBox="0 0 24 24" fill="none" stroke="#d64545" stroke-width="2" stroke-linecap="round" stroke-linejoin="round"><path d="M3 6h18"/><path d="M19 6v14c0 1-1 2-2 2H7c-1 0-2-1-2-2V6"/><path d="M8 6V4c0-1 1-2 2-2h4c1 0 2 1 2 2v2"/><line x1="10" x2="10" y1="11" y2="17"/><line x1="14" x2="14" y1="11" y2="17"/></svg>
<div class="abs" style="left:273px;top:580px;width:1622px;height:1px;background:#e5e7eb"></div>
<div class="t" style="left:290px;top:538.25px;font-size:14px;line-height:18px;color:#2f67d3;font-weight:normal;">APT-00014</div>
<div class="t" style="left:447px;top:538.25px;font-size:14px;line-height:18px;color:#1c1c1e;font-weight:normal;">Mike Martin</div>
<div class="t" style="left:631.5px;top:538.25px;font-size:14px;line-height:18px;color:#1c1c1e;font-weight:normal;">mike.martin14@example.com</div>
<div class="t" style="left:908px;top:538.25px;font-size:14px;line-height:18px;color:#1c1c1e;font-weight:normal;">+818018106802</div>
<div class="t" style="left:1070.5px;top:538.25px;font-size:14px;line-height:18px;color:#1c1c1e;font-weight:normal;">04-09-2026</div>
<div class="t" style="left:1274px;top:538.25px;font-size:14px;line-height:18px;color:#1c1c1e;font-weight:normal;">10:30:00</div>
<div class="t" style="left:1373px;top:538.25px;font-size:14px;line-height:18px;color:#1c1c1e;font-weight:normal;">$850.00</div>
<div class="badge" style="left:1469.5px;top:535.2px;background:#fde3e3;color:#b84444">Cancelled</div>
<div class="badge" style="left:1600.5px;top:535.2px;background:#fdf5c4;color:#98702a">Pending</div>
<svg style="position:absolute;left:1763px;top:540px" width="16" height="16" viewBox="0 0 24 24" fill="none" stroke="#2d5cc8" stroke-width="2" stroke-linecap="round" stroke-linejoin="round"><rect width="20" height="14" x="2" y="5" rx="2"/><line x1="2" x2="22" y1="10" y2="10"/></svg>
<svg style="position:absolute;left:1799px;top:540px" width="16" height="16" viewBox="0 0 24 24" fill="none" stroke="#238a50" stroke-width="2" stroke-linecap="round" stroke-linejoin="round"><path d="M2.062 12.348a1 1 0 0 1 0-.696 10.75 10.75 0 0 1 19.876 0 1 1 0 0 1 0 .696 10.75 10.75 0 0 1-19.876 0"/><circle cx="12" cy="12" r="3"/></svg>
<svg style="position:absolute;left:1835px;top:540px" width="16" height="16" viewBox="0 0 24 24" fill="none" stroke="#d64545" stroke-width="2" stroke-linecap="round" stroke-linejoin="round"><path d="M3 6h18"/><path d="M19 6v14c0 1-1 2-2 2H7c-1 0-2-1-2-2V6"/><path d="M8 6V4c0-1 1-2 2-2h4c1 0 2 1 2 2v2"/><line x1="10" x2="10" y1="11" y2="17"/><line x1="14" x2="14" y1="11" y2="17"/></svg>
<div class="abs" style="left:273px;top:645px;width:1622px;height:1px;background:#e5e7eb"></div>
<div class="t" style="left:290px;top:603.25px;font-size:14px;line-height:18px;color:#2f67d3;font-weight:normal;">APT-00013</div>
<div class="t" style="left:447px;top:603.25px;font-size:14px;line-height:18px;color:#1c1c1e;font-weight:normal;">Rachel Taylor</div>
<div class="t" style="left:631.5px;top:603.25px;font-size:14px;line-height:18px;color:#1c1c1e;font-weight:normal;">rachel.taylor13@example.com</div>
<div class="t" style="left:908px;top:603.25px;font-size:14px;line-height:18px;color:#1c1c1e;font-weight:normal;">+349513071586</div>
<div class="t" style="left:1070.5px;top:603.25px;font-size:14px;line-height:18px;color:#1c1c1e;font-weight:normal;">04-01-2026</div>
<div class="t" style="left:1274px;top:603.25px;font-size:14px;line-height:18px;color:#1c1c1e;font-weight:normal;">09:30:00</div>
<div class="t" style="left:1373px;top:603.25px;font-size:14px;line-height:18px;color:#1c1c1e;font-weight:normal;">$700.00</div>
<div class="badge" style="left:1469.5px;top:600.2px;background:#fdf5c4;color:#98702a">Pending</div>
<div class="badge" style="left:1600.5px;top:600.2px;background:#fdf5c4;color:#98702a">Pending</div>
<svg style="position:absolute;left:1763px;top:605px" width="16" height="16" viewBox="0 0 24 24" fill="none" stroke="#2d5cc8" stroke-width="2" stroke-linecap="round" stroke-linejoin="round"><rect width="20" height="14" x="2" y="5" rx="2"/><line x1="2" x2="22" y1="10" y2="10"/></svg>
<svg style="position:absolute;left:1799px;top:605px" width="16" height="16" viewBox="0 0 24 24" fill="none" stroke="#238a50" stroke-width="2" stroke-linecap="round" stroke-linejoin="round"><path d="M2.062 12.348a1 1 0 0 1 0-.696 10.75 10.75 0 0 1 19.876 0 1 1 0 0 1 0 .696 10.75 10.75 0 0 1-19.876 0"/><circle cx="12" cy="12" r="3"/></svg>
<svg style="position:absolute;left:1835px;top:605px" width="16" height="16" viewBox="0 0 24 24" fill="none" stroke="#d64545" stroke-width="2" stroke-linecap="round" stroke-linejoin="round"><path d="M3 6h18"/><path d="M19 6v14c0 1-1 2-2 2H7c-1 0-2-1-2-2V6"/><path d="M8 6V4c0-1 1-2 2-2h4c1 0 2 1 2 2v2"/><line x1="10" x2="10" y1="11" y2="17"/><line x1="14" x2="14" y1="11" y2="17"/></svg>
<div class="abs" style="left:273px;top:710px;width:1622px;height:1px;background:#e5e7eb"></div>
<div class="t" style="left:290px;top:668.25px;font-size:14px;line-height:18px;color:#2f67d3;font-weight:normal;">APT-00015</div>
<div class="t" style="left:447px;top:668.25px;font-size:14px;line-height:18px;color:#1c1c1e;font-weight:normal;">David Miller</div>
<div class="t" style="left:631.5px;top:668.25px;font-size:14px;line-height:18px;color:#1c1c1e;font-weight:normal;">david.miller15@example.com</div>
<div class="t" style="left:908px;top:668.25px;font-size:14px;line-height:18px;color:#1c1c1e;font-weight:normal;">+911177398076</div>
<div class="t" style="left:1070.5px;top:668.25px;font-size:14px;line-height:18px;color:#1c1c1e;font-weight:normal;">04-05-2026</div>
<div class="t" style="left:1274px;top:668.25px;font-size:14px;line-height:18px;color:#1c1c1e;font-weight:normal;">17:00:00</div>
<div class="t" style="left:1373px;top:668.25px;font-size:14px;line-height:18px;color:#1c1c1e;font-weight:normal;">$870.00</div>
<div class="badge" style="left:1469.5px;top:665.2px;background:#dcfbe6;color:#22845a">Confirmed</div>
<div class="badge" style="left:1600.5px;top:665.2px;background:#dcfbe6;color:#22845a">Paid</div>
<svg style="position:absolute;left:1763px;top:670px" width="16" height="16" viewBox="0 0 24 24" fill="none" stroke="#238a50" stroke-width="2" stroke-linecap="round" stroke-linejoin="round"><path d="M2.062 12.348a1 1 0 0 1 0-.696 10.75 10.75 0 0 1 19.876 0 1 1 0 0 1 0 .696 10.75 10.75 0 0 1-19.876 0"/><circle cx="12" cy="12" r="3"/></svg>
<svg style="position:absolute;left:1799px;top:670px" width="16" height="16" viewBox="0 0 24 24" fill="none" stroke="#d64545" stroke-width="2" stroke-linecap="round" stroke-linejoin="round"><path d="M3 6h18"/><path d="M19 6v14c0 1-1 2-2 2H7c-1 0-2-1-2-2V6"/><path d="M8 6V4c0-1 1-2 2-2h4c1 0 2 1 2 2v2"/><line x1="10" x2="10" y1="11" y2="17"/><line x1="14" x2="14" y1="11" y2="17"/></svg>
<div class="abs" style="left:273px;top:775px;width:1622px;height:1px;background:#e5e7eb"></div>
<div class="t" style="left:290px;top:733.25px;font-size:14px;line-height:18px;color:#2f67d3;font-weight:normal;">APT-00016</div>
<div class="t" style="left:447px;top:733.25px;font-size:14px;line-height:18px;color:#1c1c1e;font-weight:normal;">Lisa Miller</div>
<div class="t" style="left:631.5px;top:733.25px;font-size:14px;line-height:18px;color:#1c1c1e;font-weight:normal;">lisa.miller16@example.com</div>
<div class="t" style="left:908px;top:733.25px;font-size:14px;line-height:18px;color:#1c1c1e;font-weight:normal;">+443440102132</div>
<div class="t" style="left:1070.5px;top:733.25px;font-size:14px;line-height:18px;color:#1c1c1e;font-weight:normal;">04-05-2026</div>
<div class="t" style="left:1274px;top:733.25px;font-size:14px;line-height:18px;color:#1c1c1e;font-weight:normal;">12:00:00</div>
<div class="t" style="left:1373px;top:733.25px;font-size:14px;line-height:18px;color:#1c1c1e;font-weight:normal;">$238.00</div>
<div class="badge" style="left:1469.5px;top:730.2px;background:#dcfbe6;color:#22845a">Confirmed</div>
<div class="badge" style="left:1600.5px;top:730.2px;background:#dcfbe6;color:#22845a">Paid</div>
<svg style="position:absolute;left:1763px;top:735px" width="16" height="16" viewBox="0 0 24 24" fill="none" stroke="#238a50" stroke-width="2" stroke-linecap="round" stroke-linejoin="round"><path d="M2.062 12.348a1 1 0 0 1 0-.696 10.75 10.75 0 0 1 19.876 0 1 1 0 0 1 0 .696 10.75 10.75 0 0 1-19.876 0"/><circle cx="12" cy="12" r="3"/></svg>
<svg style="position:absolute;left:1799px;top:735px" width="16" height="16" viewBox="0 0 24 24" fill="none" stroke="#d64545" stroke-width="2" stroke-linecap="round" stroke-linejoin="round"><path d="M3 6h18"/><path d="M19 6v14c0 1-1 2-2 2H7c-1 0-2-1-2-2V6"/><path d="M8 6V4c0-1 1-2 2-2h4c1 0 2 1 2 2v2"/><line x1="10" x2="10" y1="11" y2="17"/><line x1="14" x2="14" y1="11" y2="17"/></svg>
<div class="abs" style="left:273px;top:840px;width:1622px;height:1px;background:#e5e7eb"></div>
<div class="t" style="left:290px;top:798.25px;font-size:14px;line-height:18px;color:#2f67d3;font-weight:normal;">APT-00019</div>
<div class="t" style="left:447px;top:798.25px;font-size:14px;line-height:18px;color:#1c1c1e;font-weight:normal;">Mike Thompson</div>
<div class="t" style="left:631.5px;top:798.25px;font-size:14px;line-height:18px;color:#1c1c1e;font-weight:normal;">mike.thompson19@example.com</div>
<div class="t" style="left:908px;top:798.25px;font-size:14px;line-height:18px;color:#1c1c1e;font-weight:normal;">+15753729299</div>
<div class="t" style="left:1070.5px;top:798.25px;font-size:14px;line-height:18px;color:#1c1c1e;font-weight:normal;">04-05-2026</div>
<div class="t" style="left:1274px;top:798.25px;font-size:14px;line-height:18px;color:#1c1c1e;font-weight:normal;">17:30:00</div>
<div class="t" style="left:1373px;top:798.25px;font-size:14px;line-height:18px;color:#1c1c1e;font-weight:normal;">$720.00</div>
<div class="badge" style="left:1469.5px;top:795.2px;background:#dcfbe6;color:#22845a">Confirmed</div>
<div class="badge" style="left:1600.5px;top:795.2px;background:#dcfbe6;color:#22845a">Paid</div>
<svg style="position:absolute;left:1763px;top:800px" width="16" height="16" viewBox="0 0 24 24" fill="none" stroke="#238a50" stroke-width="2" stroke-linecap="round" stroke-linejoin="round"><path d="M2.062 12.348a1 1 0 0 1 0-.696 10.75 10.75 0 0 1 19.876 0 1 1 0 0 1 0 .696 10.75 10.75 0 0 1-19.876 0"/><circle cx="12" cy="12" r="3"/></svg>
<svg style="position:absolute;left:1799px;top:800px" width="16" height="16" viewBox="0 0 24 24" fill="none" stroke="#d64545" stroke-width="2" stroke-linecap="round" stroke-linejoin="round"><path d="M3 6h18"/><path d="M19 6v14c0 1-1 2-2 2H7c-1 0-2-1-2-2V6"/><path d="M8 6V4c0-1 1-2 2-2h4c1 0 2 1 2 2v2"/><line x1="10" x2="10" y1="11" y2="17"/><line x1="14" x2="14" y1="11" y2="17"/></svg>
<div class="t" style="left:290px;top:863.25px;font-size:14px;line-height:18px;color:#2f67d3;font-weight:normal;">APT-00020</div>
<div class="t" style="left:447px;top:863.25px;font-size:14px;line-height:18px;color:#1c1c1e;font-weight:normal;">Emily Robinson</div>
<div class="t" style="left:631.5px;top:863.25px;font-size:14px;line-height:18px;color:#1c1c1e;font-weight:normal;">emily.robinson20@example.com</div>
<div class="t" style="left:908px;top:863.25px;font-size:14px;line-height:18px;color:#1c1c1e;font-weight:normal;">+78528499183</div>
<div class="t" style="left:1070.5px;top:863.25px;font-size:14px;line-height:18px;color:#1c1c1e;font-weight:normal;">03-28-2026</div>
<div class="t" style="left:1274px;top:863.25px;font-size:14px;line-height:18px;color:#1c1c1e;font-weight:normal;">15:00:00</div>
<div class="t" style="left:1373px;top:863.25px;font-size:14px;line-height:18px;color:#1c1c1e;font-weight:normal;">$570.00</div>
<div class="badge" style="left:1469.5px;top:860.2px;background:#fdf5c4;color:#98702a">Pending</div>
<div class="badge" style="left:1600.5px;top:860.2px;background:#fdf5c4;color:#98702a">Pending</div>
<svg style="position:absolute;left:1763px;top:865px" width="16" height="16" viewBox="0 0 24 24" fill="none" stroke="#238a50" stroke-width="2" stroke-linecap="round" stroke-linejoin="round"><path d="M2.062 12.348a1 1 0 0 1 0-.696 10.75 10.75 0 0 1 19.876 0 1 1 0 0 1 0 .696 10.75 10.75 0 0 1-19.876 0"/><circle cx="12" cy="12" r="3"/></svg>
<svg style="position:absolute;left:1799px;top:865px" width="16" height="16" viewBox="0 0 24 24" fill="none" stroke="#d64545" stroke-width="2" stroke-linecap="round" stroke-linejoin="round"><path d="M3 6h18"/><path d="M19 6v14c0 1-1 2-2 2H7c-1 0-2-1-2-2V6"/><path d="M8 6V4c0-1 1-2 2-2h4c1 0 2 1 2 2v2"/><line x1="10" x2="10" y1="11" y2="17"/><line x1="14" x2="14" y1="11" y2="17"/></svg>
<div class="abs" style="left:273px;top:905px;width:1622px;height:2px;background:#e5e7eb"></div>
<div class="t" style="left:297px;top:939.25px;font-size:14px;line-height:18px;color:#6b7280;font-weight:normal;">Showing 1 to 10 of 24 results</div>
<div class="pg" style="left:1537px;top:933px;width:104px;height:32px;border-color:#f0f0f2;background:#fefefe"></div>
<svg style="position:absolute;left:1550px;top:941px" width="16" height="16" viewBox="0 0 24 24" fill="none" stroke="#7a7a80" stroke-width="2" stroke-linecap="round" stroke-linejoin="round"><path d="m15 18-6-6 6-6"/></svg>
<div class="t" style="left:1574px;top:938.75px;font-size:14px;line-height:18px;color:#7a7a80;font-weight:normal;">Previous</div>
<div class="pg" style="left:1654px;top:931px;width:32px;height:36px;background:#13b37f;border-color:#13b37f"></div>
<div class="t" style="left:1666px;top:938.75px;font-size:14px;line-height:18px;color:#fff;font-weight:normal;-webkit-text-stroke:0.4px #fff">1</div>
<div class="pg" style="left:1698px;top:931px;width:34px;height:36px"></div>
<div class="t" style="left:1711px;top:938.75px;font-size:14px;line-height:18px;color:#18181b;font-weight:normal;-webkit-text-stroke:0.3px #18181b">2</div>
<div class="pg" style="left:1744px;top:931px;width:34px;height:36px"></div>
<div class="t" style="left:1757px;top:938.75px;font-size:14px;line-height:18px;color:#18181b;font-weight:normal;-webkit-text-stroke:0.3px #18181b">3</div>
<div class="pg" style="left:1790px;top:933px;width:81px;height:32px"></div>
<div class="t" style="left:1803px;top:938.75px;font-size:14px;line-height:18px;color:#18181b;font-weight:normal;-webkit-text-stroke:0.3px #18181b">Next</div>
<svg style="position:absolute;left:1842px;top:941px" width="16" height="16" viewBox="0 0 24 24" fill="none" stroke="#18181b" stroke-width="2" stroke-linecap="round" stroke-linejoin="round"><path d="m9 18 6-6-6-6"/></svg>
</div></body></html>
